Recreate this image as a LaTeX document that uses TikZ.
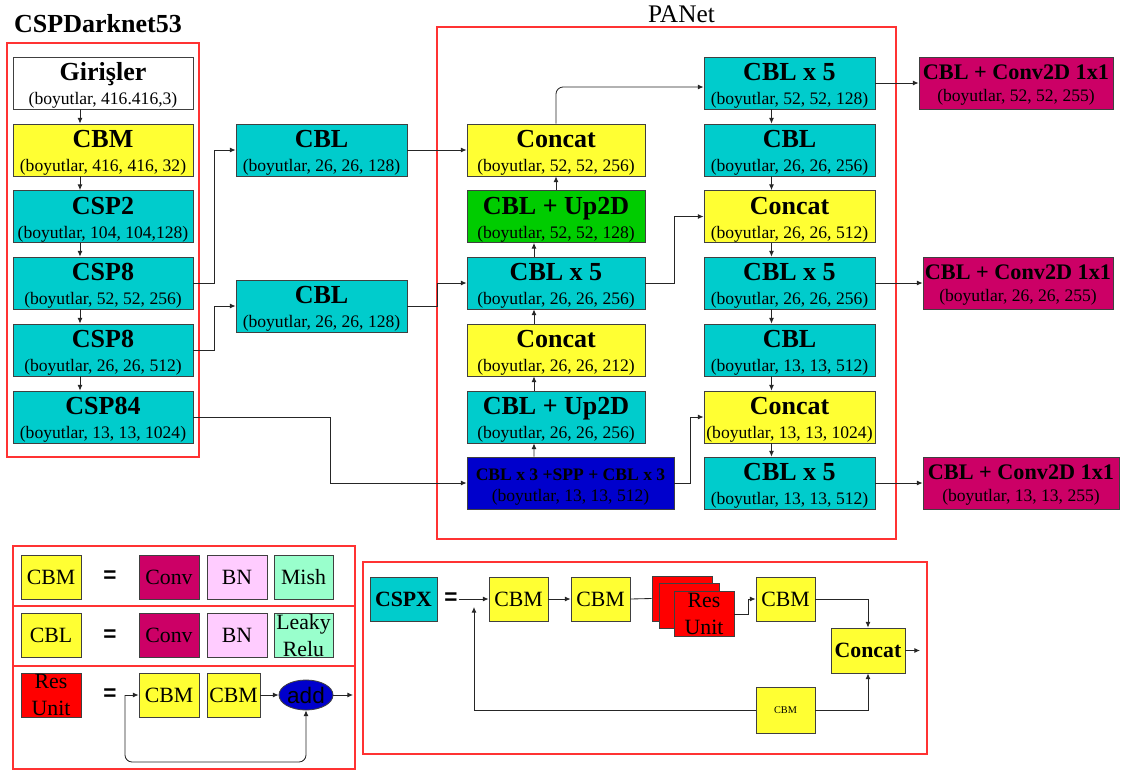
\documentclass[tikz,border=0pt]{standalone}
\usepackage{fontspec}
\setmainfont{Liberation Serif}
\setsansfont{Liberation Sans}
\usetikzlibrary{arrows.meta, shapes.geometric}

\definecolor{sari}{RGB}{255,255,51}
\definecolor{turkuaz}{RGB}{0,204,204}
\definecolor{yesil}{RGB}{0,204,0}
\definecolor{lacivert}{RGB}{0,0,204}
\definecolor{bordo}{RGB}{204,0,102}
\definecolor{pembe}{RGB}{255,204,255}
\definecolor{mint}{RGB}{153,255,204}
\definecolor{kirmizi}{RGB}{255,50,50}

\newcommand{\blokyazi}[2]{\rule{0pt}{16.5pt}{\fontsize{18.5}{18.5}\selectfont\bfseries #1}\\#2}
\newcommand{\cikisyazi}[2]{\rule{0pt}{14pt}{\fontsize{15.8}{15.8}\selectfont\bfseries #1}\\#2}
\newcommand{\sppyazi}[2]{\rule{0pt}{13.5pt}{\fontsize{12.5}{12.5}\selectfont\bfseries #1}\\#2}

\begin{document}
\begin{tikzpicture}[x=0.025cm, y=-0.025cm,
  blok/.style={draw=black!75, line width=0.6pt, minimum height=1.3cm, inner sep=0pt, align=center, font=\fontsize{12.5}{17}\selectfont},
  cikis/.style={blok, fill=bordo, font=\fontsize{12.5}{15.6}\selectfont},
  lej/.style={draw=black!75, line width=0.6pt, minimum width=1.5cm, minimum height=1.1cm, inner sep=0pt, align=center, font=\fontsize{15.5}{19}\selectfont},
  iki/.style={label={[align=center, font=\fontsize{15.5}{19}\selectfont]center:#1}},
  esit/.style={font=\fontsize{16}{16}\selectfont\sffamily\bfseries},
  ok/.style={-{Latex[length=4pt,width=3.5pt]}, line width=0.6pt, black!85},
  hat/.style={line width=0.6pt, black!85},
  cerceve/.style={draw=kirmizi, line width=0.8pt}]
  \useasboundingbox (0,0) rectangle (1121,771);

  % omurga: CSPDarknet53
  \node[anchor=base, font=\fontsize{18.5}{20}\selectfont\bfseries] (t1) at (98,32) {CSPDarknet53};
  \draw[cerceve] (7,43) rectangle (199,457);
  \node[blok, fill=white, minimum width=4.5cm] (gir) at (103,83) {\blokyazi{Girişler}{(boyutlar, 416.416,3)}};
  \node[blok, fill=sari, minimum width=4.5cm] (cbm) at (103,150) {\blokyazi{CBM}{(boyutlar, 416, 416, 32)}};
  \node[blok, fill=turkuaz, minimum width=4.5cm] (csp2) at (103,216.5) {\blokyazi{CSP2}{(boyutlar, 104, 104,128)}};
  \node[blok, fill=turkuaz, minimum width=4.5cm] (cspa) at (103,283) {\blokyazi{CSP8}{(boyutlar, 52, 52, 256)}};
  \node[blok, fill=turkuaz, minimum width=4.5cm] (cspb) at (103,350) {\blokyazi{CSP8}{(boyutlar, 26, 26, 512)}};
  \node[blok, fill=turkuaz, minimum width=4.5cm] (csp84) at (103,417) {\blokyazi{CSP84}{(boyutlar, 13, 13, 1024)}};

  \draw[ok] ([xshift=-5.75mm]gir.south) -- ([xshift=-5.75mm]cbm.north);
  \draw[ok] ([xshift=-5.75mm]cbm.south) -- ([xshift=-5.75mm]csp2.north);
  \draw[ok] ([xshift=-5.75mm]csp2.south) -- ([xshift=-5.75mm]cspa.north);
  \draw[ok] ([xshift=-5.75mm]cspa.south) -- ([xshift=-5.75mm]cspb.north);
  \draw[ok] ([xshift=-5.75mm]cspb.south) -- ([xshift=-5.75mm]csp84.north);

  % ara CBL bloklari
  \node[blok, fill=turkuaz, minimum width=4.275cm] (cbla) at (321.5,150) {\blokyazi{CBL}{(boyutlar, 26, 26, 128)}};
  \node[blok, fill=turkuaz, minimum width=4.275cm] (cblb) at (321.5,306) {\blokyazi{CBL}{(boyutlar, 26, 26, 128)}};
  \draw[ok] (cspa.east) -- ++(21,0) |- (cbla.west);
  \draw[ok] (cspb.east) -- ++(21,0) |- (cblb.west);

  % boyun: PANet
  \node[anchor=base, font=\fontsize{18}{20}\selectfont] (t2) at (681.5,22) {PANet};
  \draw[cerceve] (437,27) rectangle (896,539);
  \node[blok, fill=sari, minimum width=4.45cm] (cat52) at (556,150) {\blokyazi{Concat}{(boyutlar, 52, 52, 256)}};
  \node[blok, fill=yesil, minimum width=4.45cm] (up52) at (556,216.5) {\blokyazi{CBL + Up2D}{(boyutlar, 52, 52, 128)}};
  \node[blok, fill=turkuaz, minimum width=4.45cm] (c5m) at (556,283) {\blokyazi{CBL x 5}{(boyutlar, 26, 26, 256)}};
  \node[blok, fill=sari, minimum width=4.45cm] (cat212) at (556,350) {\blokyazi{Concat}{(boyutlar, 26, 26, 212)}};
  \node[blok, fill=turkuaz, minimum width=4.45cm] (up26) at (556,417) {\blokyazi{CBL + Up2D}{(boyutlar, 26, 26, 256)}};
  \node[blok, fill=lacivert, minimum width=5.175cm, font=\fontsize{12.5}{15}\selectfont] (spp) at (570.5,483) {\sppyazi{CBL x 3 +SPP + CBL x 3}{(boyutlar, 13, 13, 512)}};

  \node[blok, fill=turkuaz, minimum width=4.275cm] (c5a) at (789.5,83) {\blokyazi{CBL x 5}{(boyutlar, 52, 52, 128)}};
  \node[blok, fill=turkuaz, minimum width=4.275cm] (cbl256) at (789.5,150) {\blokyazi{CBL}{(boyutlar, 26, 26, 256)}};
  \node[blok, fill=sari, minimum width=4.275cm] (cat512) at (789.5,216.5) {\blokyazi{Concat}{(boyutlar, 26, 26, 512)}};
  \node[blok, fill=turkuaz, minimum width=4.275cm] (c5b) at (789.5,283) {\blokyazi{CBL x 5}{(boyutlar, 26, 26, 256)}};
  \node[blok, fill=turkuaz, minimum width=4.275cm] (cbl512) at (789.5,350) {\blokyazi{CBL}{(boyutlar, 13, 13, 512)}};
  \node[blok, fill=sari, minimum width=4.275cm] (cat1024) at (789.5,417) {\blokyazi{Concat}{(boyutlar, 13, 13, 1024)}};
  \node[blok, fill=turkuaz, minimum width=4.275cm] (c5c) at (789.5,483) {\blokyazi{CBL x 5}{(boyutlar, 13, 13, 512)}};

  % cikislar
  \node[cikis, minimum width=4.85cm] (out1) at (1016,83) {\cikisyazi{CBL + Conv2D 1x1}{(boyutlar, 52, 52, 255)}};
  \node[cikis, minimum width=4.75cm] (out2) at (1018,283) {\cikisyazi{CBL + Conv2D 1x1}{(boyutlar, 26, 26, 255)}};
  \node[cikis, minimum width=4.9cm] (out3) at (1021,483) {\cikisyazi{CBL + Conv2D 1x1}{(boyutlar, 13, 13, 255)}};

  % baglantilar
  \draw[ok] (cbla.east) -- (cat52.west);
  \draw[ok] (cblb.east) -- ++(30,0) |- (c5m.west);
  \draw[ok] (csp84.east) -- ++(137,0) |- (spp.west);
  \draw[ok] ([xshift=-9.125mm]spp.north) -- ([xshift=-5.5mm]up26.south);
  \draw[ok] ([xshift=-5.5mm]up26.north) -- ([xshift=-5.5mm]cat212.south);
  \draw[ok] ([xshift=-5.5mm]cat212.north) -- ([xshift=-5.5mm]c5m.south);
  \draw[ok] ([xshift=-5.5mm]c5m.north) -- ([xshift=-5.5mm]up52.south);
  \draw[ok] (up52.north) -- (cat52.south);
  \draw[ok, rounded corners=5pt] (cat52.north) |- ([yshift=-1mm]c5a.west);
  \draw[ok] (c5m.east) -- ++(29,0) |- (cat512.west);
  \draw[ok] (spp.east) -- ++(16,0) |- (cat1024.west);

  \draw[ok] ([xshift=-4.5mm]c5a.south) -- ([xshift=-4.5mm]cbl256.north);
  \draw[ok] ([xshift=-4.5mm]cbl256.south) -- ([xshift=-4.5mm]cat512.north);
  \draw[ok] ([xshift=-4.5mm]cat512.south) -- ([xshift=-4.5mm]c5b.north);
  \draw[ok] ([xshift=-4.5mm]c5b.south) -- ([xshift=-4.5mm]cbl512.north);
  \draw[ok] ([xshift=-4.5mm]cbl512.south) -- ([xshift=-4.5mm]cat1024.north);
  \draw[ok] ([xshift=-4.5mm]cat1024.south) -- ([xshift=-4.5mm]c5c.north);

  \draw[ok] (c5a.east) -- (out1.west);
  \draw[ok] (c5b.east) -- (out2.west);
  \draw[ok] (c5c.east) -- (out3.west);

  % aciklama: CBM, CBL, Res Unit
  \draw[cerceve] (13,546) rectangle (355,606);
  \draw[cerceve] (13,606) rectangle (355,666);
  \draw[cerceve] (13,666) rectangle (355,769);

  \node[lej, fill=sari] (lcbm) at (51,577) {CBM};
  \node[esit] (e1) at (110,577) {=};
  \node[lej, fill=bordo] (conv1) at (169,577) {Conv};
  \node[lej, fill=pembe] (bn1) at (237,577) {BN};
  \node[lej, fill=mint, minimum width=1.475cm] (mish) at (303.5,577) {Mish};

  \node[lej, fill=sari] (lcbl) at (51,635.5) {CBL};
  \node[esit] (e2) at (110,635.5) {=};
  \node[lej, fill=bordo] (conv2) at (169,635.5) {Conv};
  \node[lej, fill=pembe] (bn2) at (237,635.5) {BN};
  \node[lej, fill=mint, minimum width=1.475cm, iki={Leaky\\Relu}] (leaky) at (303.5,635.5) {};

  \node[lej, fill=red, iki={Res\\Unit}] (lres) at (51,695) {};
  \node[esit] (e3) at (110,695) {=};
  \node[lej, fill=sari] (rcbm1) at (169,695) {CBM};
  \node[lej, fill=sari, minimum width=1.325cm] (rcbm2) at (233.5,695) {CBM};
  \node[ellipse, draw=black!75, line width=0.6pt, fill=lacivert, minimum width=1.35cm, minimum height=0.75cm, inner sep=0pt, font=\fontsize{16}{16}\selectfont\sffamily] (add) at (306,695) {add};
  \coordinate (rg) at (125,695);
  \coordinate (rc) at (353,695);
  \draw[ok] (rg) -- (rcbm1.west);
  \draw[ok, rounded corners=5pt] (rg) -- ++(0,67) -| (add.south);
  \draw[ok] (rcbm2.east) -- (add.west);
  \draw[ok] (add.east) -- (rc);

  % aciklama: CSPX
  \draw[cerceve] (363,562) rectangle (927,754);
  \node[lej, fill=turkuaz, minimum width=1.675cm, font=\fontsize{15.5}{19}\selectfont\bfseries] (cspx) at (403.5,599) {CSPX};
  \node[esit] (e4) at (451,599) {=};
  \coordinate (xg) at (459,599);
  \node[lej, fill=sari, minimum width=1.475cm] (xcbm1) at (518.5,599) {CBM};
  \node[lej, fill=sari, minimum width=1.475cm] (xcbm2) at (600.5,599) {CBM};
  \node[lej, fill=red, minimum height=1.125cm] (res1) at (682,598.5) {};
  \node[lej, fill=red, minimum height=1.125cm] (res2) at (689,605.5) {};
  \node[lej, fill=red, minimum height=1.125cm, iki={Res\\Unit}] (res3) at (704,614) {};
  \node[lej, fill=sari, minimum width=1.475cm] (xcbm3) at (785.5,599) {CBM};
  \node[lej, fill=sari, minimum width=1.85cm, minimum height=1.125cm, font=\fontsize{15.5}{19}\selectfont\bfseries] (xcat) at (868,650.5) {Concat};
  \node[lej, fill=sari, minimum width=1.475cm, minimum height=1.15cm, font=\fontsize{7.3}{8}\selectfont] (xcbm4) at (785.5,710) {CBM};
  \coordinate (xc) at (920,650.5);
  \coordinate (xd) at (474,607);

  \draw[ok] (xg) -- (xcbm1.west);
  \draw[ok] (xcbm1.east) -- (xcbm2.west);
  \draw[hat] (xcbm2.east) -- (res1.west);
  \draw[ok] (res3.east) -- ++(14,0) |- (xcbm3.west);
  \draw[ok] (xcbm3.east) -| (xcat.north);
  \draw[ok] (xcat.east) -- (xc);
  \draw[ok] (xcbm4.east) -| (xcat.south);
  \draw[ok] (xcbm4.west) -| (xd);
\end{tikzpicture}
\end{document}
